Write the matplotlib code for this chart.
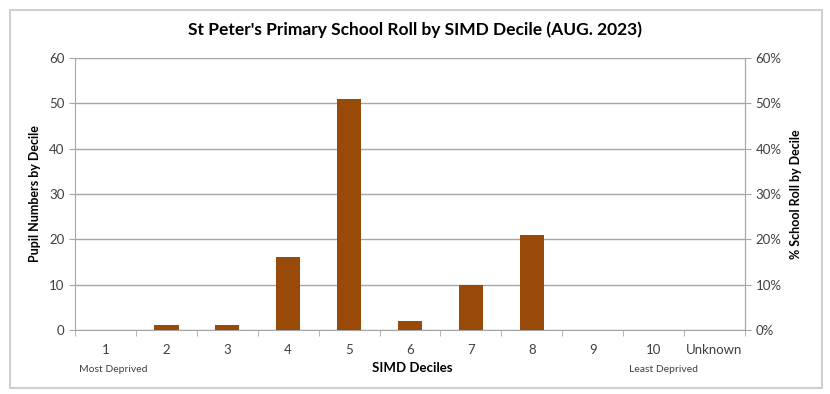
import matplotlib.pyplot as plt
import matplotlib.patches as mpatches
import numpy as np

plt.rcParams['font.family'] = ['Lato', 'DejaVu Sans']

categories = ['1', '2', '3', '4', '5', '6', '7', '8', '9', '10', 'Unknown']
pupils = [0, 1, 1, 16, 51, 2, 10, 21, 0, 0, 0]
y_ticks = [0, 10, 20, 30, 40, 50, 60]
pct_labels = ['0%', '10%', '20%', '30%', '40%', '50%', '60%']

bar_color = '#9A4A08'
grid_color = '#A6A6A6'
text_color = '#404040'

fig = plt.figure(figsize=(8.3, 3.94), dpi=100)
fig.patches.append(mpatches.Rectangle((10 / 830, 6 / 394), 812 / 830, 378 / 394,
                                      transform=fig.transFigure, fill=False,
                                      edgecolor='#D0D0D0', linewidth=1.5))

ax = fig.add_axes([75 / 830, 64 / 394, 670 / 830, 272 / 394])
x = np.arange(len(categories))
ax.bar(x, pupils, width=0.4, color=bar_color, zorder=3)

ax.set_xlim(-0.5, len(categories) - 0.5)
ax.set_ylim(0, 60)
ax.set_yticks(y_ticks)
ax.yaxis.grid(True, color=grid_color, linewidth=1, zorder=0)
ax.set_xticks(x)
ax.set_xticklabels(categories)
ax.set_xticks(np.arange(len(categories) + 1) - 0.5, minor=True)
ax.tick_params(axis='x', which='major', length=0, pad=10, labelsize=9.5, colors=text_color)
ax.tick_params(axis='x', which='minor', length=4, color=grid_color, direction='out')
ax.tick_params(axis='y', length=4, color=grid_color, labelsize=9.5, labelcolor=text_color)

ax.spines['top'].set_visible(False)
for side in ['left', 'right', 'bottom']:
    ax.spines[side].set_color(grid_color)

ax.set_ylabel('Pupil Numbers by Decile', fontsize=9, fontweight='bold', labelpad=6)

ax2 = ax.twinx()
ax2.set_ylim(0, 60)
ax2.set_yticks(y_ticks)
ax2.set_yticklabels(pct_labels)
ax2.tick_params(axis='y', length=4, color=grid_color, labelsize=9.5, labelcolor=text_color)
for side in ['top', 'left', 'bottom']:
    ax2.spines[side].set_visible(False)
ax2.spines['right'].set_color(grid_color)
ax2.set_ylabel('% School Roll by Decile', fontsize=9, fontweight='bold', labelpad=6)

fig.text(0.5, 1 - 30 / 394, "St Peter's Primary School Roll by SIMD Decile (AUG. 2023)",
         ha='center', va='center', fontsize=12.5, fontweight='bold', color='black')
fig.text(113 / 830, 1 - 369 / 394, 'Most Deprived', ha='center', va='center', fontsize=7.5, color=text_color)
fig.text(412 / 830, 1 - 368 / 394, 'SIMD Deciles', ha='center', va='center', fontsize=9.5, fontweight='bold')
fig.text(663 / 830, 1 - 369 / 394, 'Least Deprived', ha='center', va='center', fontsize=7.5, color=text_color)

fig.savefig('out.png', dpi=100)
